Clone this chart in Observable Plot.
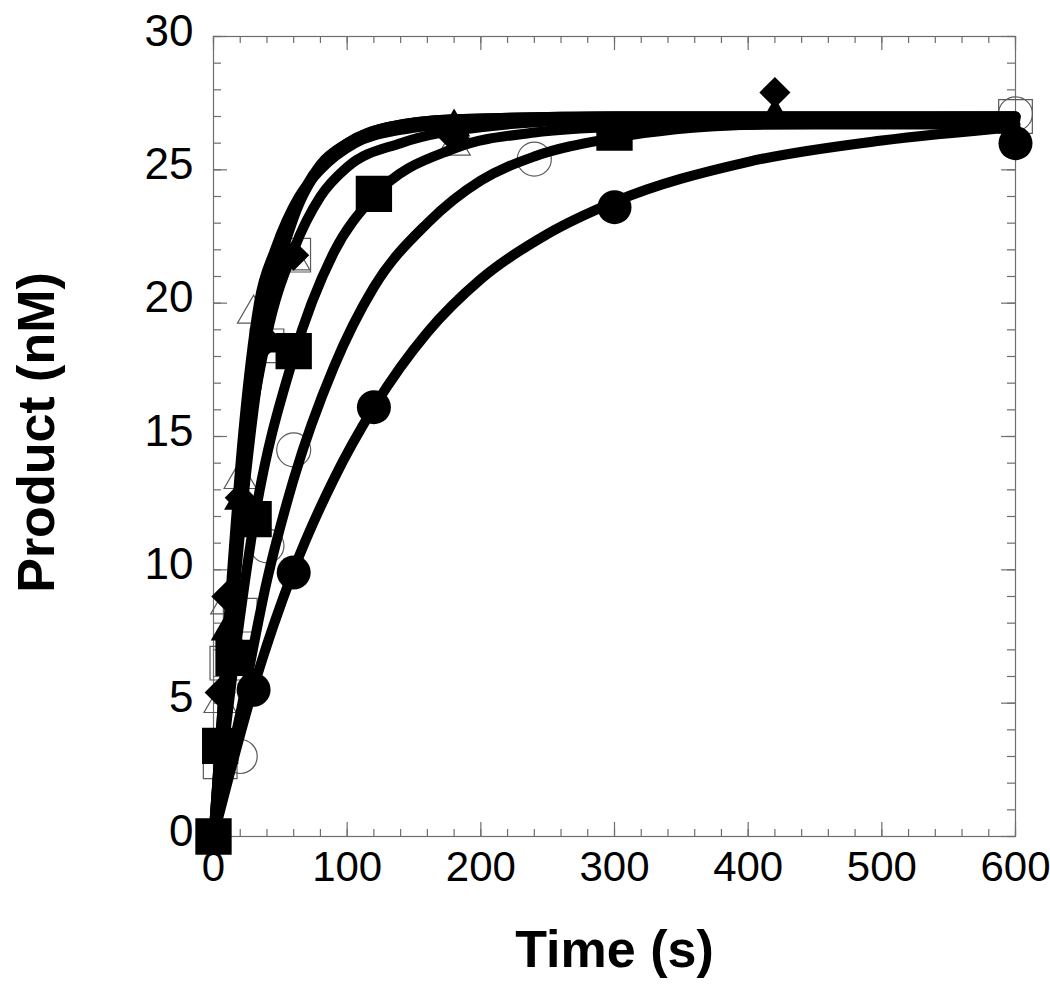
<!DOCTYPE html>
<html><head><meta charset="utf-8">
<script src="https://cdn.jsdelivr.net/npm/d3@7"></script>
<script src="https://cdn.jsdelivr.net/npm/@observablehq/plot@0.6"></script>
<style>body{margin:0;background:#fff}</style>
</head><body><div id="chart"></div>
<script>
// ---- tick labels ----
const xTicks = [0, 100, 200, 300, 400, 500, 600];
const yTicks = [0, 5, 10, 15, 20, 25, 30];
const xMinor = d3.range(0, 601, 20);
const yMinor = d3.range(0, 31, 1);
const xTitle = "Time (s)";
const yTitle = "Product (nM)";

// ---- measured points ----
// filled circles
const fcT = [0, 30, 60, 120, 300, 600];
const fcV = [0, 5.5, 9.9, 16.1, 23.6, 26.0];
// open circles
const ocT = [0, 20, 40, 60, 240, 600];
const ocV = [0, 3.0, 10.9, 14.5, 25.4, 27.1];
// filled squares
const fsT = [0, 5, 15, 30, 60, 120, 300];
const fsV = [0, 3.4, 6.7, 11.9, 18.2, 24.1, 26.4];
// filled diamonds
const fdT = [0, 5, 10, 20, 40, 60, 180, 420];
const fdV = [0, 5.4, 9.0, 12.7, 18.6, 21.8, 26.2, 27.9];
// open squares
const osT = [5, 10, 20, 40, 60, 600];
const osV = [2.8, 6.5, 8.3, 18.4, 21.8, 27.0];
// open triangles
const otT = [5, 10, 20, 30, 60, 180, 420];
const otV = [5.0, 8.7, 13.4, 19.6, 21.6, 25.9, 26.9];
// filled triangles
const ftT = [10, 20, 40, 180, 420];
const ftV = [7.7, 12.6, 18.5, 26.6, 27.0];

// ---- fitted curves ----
const cFcT = [0, 30, 60, 90, 120, 160, 200, 250, 300, 400, 500, 600];
const cFcV = [0, 5.6, 10.0, 13.4, 16.1, 18.9, 20.9, 22.6, 23.8, 25.3, 26.1, 26.6];
const cOcT = [0, 20, 40, 60, 90, 120, 160, 200, 240, 300, 400, 600];
const cOcV = [0, 4.6, 9.6, 13.4, 17.6, 20.6, 23.0, 24.6, 25.5, 26.2, 26.7, 26.9];
const cFsT = [0, 15, 30, 60, 90, 120, 180, 240, 300, 450, 600];
const cFsV = [0, 6.4, 11.7, 18.0, 21.9, 24.0, 25.8, 26.4, 26.6, 26.7, 26.7];
const cFdT = [0, 10, 20, 40, 60, 80, 100, 140, 200, 300, 600];
const cFdV = [0, 7.2, 12.5, 18.8, 22.0, 24.0, 25.1, 26.0, 26.6, 26.9, 27.0];
const cOtT = [0, 7, 14, 22, 34, 46, 64, 80, 106, 140, 200, 300, 600];
const cOtV = [0, 5, 10, 15, 20, 22, 24, 25, 26, 26.5, 26.8, 27, 27];
const cFtT = [0, 10, 20, 30, 45, 60, 80, 100, 130, 180, 300, 600];
const cFtV = [0, 6.8, 12.6, 16.9, 21.0, 23.4, 25.2, 26.0, 26.6, 26.9, 27.0, 27.0];
const cOsT = [0, 10, 20, 30, 45, 60, 80, 100, 130, 180, 300, 600];
const cOsV = [0, 6.0, 11.5, 16.0, 20.6, 23.2, 25.1, 26.0, 26.6, 26.9, 27.0, 27.0];

const pts = (T, V) => T.map((t, i) => ({t, v: V[i]}));
const FONT = "'Liberation Sans', Arial, Helvetica, sans-serif";
const AX = "#6e6e6e";
const OPEN = "#5a5a5a";
const LW = 10;

const curve = (T, V) => Plot.line(pts(T, V), {x: "t", y: "v", curve: "monotone-x", stroke: "black", strokeWidth: LW, strokeLinejoin: "round"});

const chart = Plot.plot({
  width: 1050, height: 986,
  marginLeft: 213, marginRight: 35, marginTop: 36, marginBottom: 150,
  x: {domain: [0, 600], axis: null},
  y: {domain: [0, 30], axis: null},
  style: {background: "#fff", fontFamily: FONT, overflow: "visible"},
  marks: [
    Plot.frame({stroke: AX, strokeWidth: 1.2}),
    // inward ticks: bottom, top
    Plot.tickX(xMinor, {x: d => d, insetTop: 793, stroke: AX, strokeWidth: 1.2}),
    Plot.tickX(xTicks, {x: d => d, insetTop: 786, stroke: AX, strokeWidth: 1.2}),
    Plot.tickX(xMinor, {x: d => d, insetBottom: 793, stroke: AX, strokeWidth: 1.2}),
    Plot.tickX(xTicks, {x: d => d, insetBottom: 786, stroke: AX, strokeWidth: 1.2}),
    // inward ticks: left, right
    Plot.tickY(yMinor, {y: d => d, insetRight: 794, stroke: AX, strokeWidth: 1.2}),
    Plot.tickY(yTicks, {y: d => d, insetRight: 788, stroke: AX, strokeWidth: 1.2}),
    Plot.tickY(yMinor, {y: d => d, insetLeft: 794, stroke: AX, strokeWidth: 1.2}),
    Plot.tickY(yTicks, {y: d => d, insetLeft: 788, stroke: AX, strokeWidth: 1.2}),
    // open markers (under curves)
    Plot.dot(pts(ocT, ocV), {x: "t", y: "v", symbol: "circle", r: 17, fill: "none", stroke: OPEN, strokeWidth: 1.2}),
    Plot.dot(pts(osT, osV), {x: "t", y: "v", symbol: "square", r: 19, fill: "none", stroke: OPEN, strokeWidth: 1.2}),
    Plot.dot(pts(otT, otV), {x: "t", y: "v", symbol: "triangle", r: 12, fill: "none", stroke: OPEN, strokeWidth: 1.2}),
    // fitted curves
    curve(cFcT, cFcV),
    curve(cOcT, cOcV),
    curve(cFsT, cFsV),
    curve(cFdT, cFdV),
    curve(cOtT, cOtV),
    curve(cFtT, cFtV),
    curve(cOsT, cOsV),
    // filled markers
    Plot.dot(pts(ftT, ftV), {x: "t", y: "v", symbol: "triangle", r: 12, fill: "black", stroke: "none"}),
    Plot.dot(pts(fdT, fdV), {x: "t", y: "v", symbol: "diamond2", r: 14, fill: "black", stroke: "none"}),
    Plot.dot(pts(fcT, fcV), {x: "t", y: "v", symbol: "circle", r: 17, fill: "black", stroke: "none"}),
    Plot.dot(pts(fsT, fsV), {x: "t", y: "v", symbol: "square", r: 20.5, fill: "black", stroke: "none"}),
    // tick labels
    Plot.text(xTicks, {x: d => d, y: 0, dy: 31, text: d => String(d), fontSize: 42, fill: "black", fontFamily: FONT}),
    Plot.text(yTicks, {y: d => d, x: 0, dx: -20, dy: -5, text: d => String(d), textAnchor: "end", fontSize: 44, fill: "black", fontFamily: FONT}),
    // axis titles
    Plot.text([xTitle], {frameAnchor: "bottom", lineAnchor: "middle", textAnchor: "middle", dy: 114, text: d => d, fontSize: 52, fontWeight: "bold", fill: "black", fontFamily: FONT}),
    Plot.text([yTitle], {frameAnchor: "left", lineAnchor: "middle", textAnchor: "middle", dx: -176, dy: -4, rotate: -90, text: d => d, fontSize: 52, fontWeight: "bold", fill: "black", fontFamily: FONT})
  ]
});
document.getElementById("chart").appendChild(chart);
</script>
</body></html>
